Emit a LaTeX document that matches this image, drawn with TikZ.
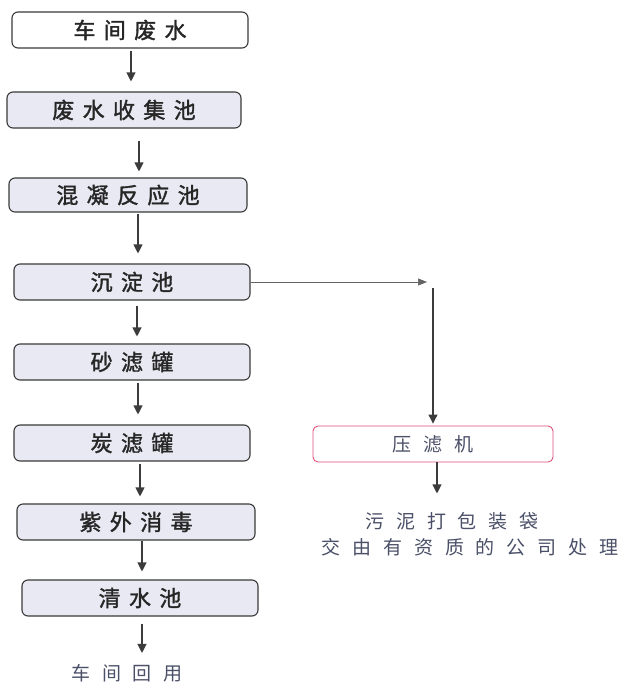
\documentclass[tikz,border=0pt]{standalone}
\usepackage{fontspec}
\usetikzlibrary{arrows.meta}
\newfontfamily\cjkb{Noto Sans CJK SC}[LetterSpace=38,FakeBold=1.5]
\newfontfamily\cjkl{Noto Sans CJK SC}[LetterSpace=62]
\definecolor{boxfill}{HTML}{E9E9F3}
\definecolor{boxdraw}{HTML}{3A3A3A}
\definecolor{pinkdraw}{HTML}{E0507A}
\definecolor{lowtext}{HTML}{4A5068}
\definecolor{arrgray}{HTML}{3C3C3C}
\tikzset{
  stepbox/.style={draw=boxdraw, line width=1.1pt, rounded corners=6pt, fill=boxfill,
    minimum height=36pt, inner sep=0pt, font=\cjkb\fontsize{22}{22}\selectfont, text=black!85},
  pressbox/.style={draw=pinkdraw, line width=0.9pt, rounded corners=5pt, fill=white,
    minimum height=36pt, inner sep=0pt, font=\cjkl\fontsize{19}{19}\selectfont, text=lowtext},
  lowlabel/.style={inner sep=0pt, font=\cjkl\fontsize{19}{19}\selectfont, text=lowtext, align=center},
  arr/.style={draw=arrgray, line width=1.1pt, -{Triangle[length=9pt,width=9pt]}},
  thinarr/.style={draw=arrgray!80, line width=0.6pt, -{Triangle[length=9pt,width=7pt]}}
}
\begin{document}
\begin{tikzpicture}[x=1pt,y=-1pt]
\useasboundingbox (0,0) rectangle (629,686);
\fill[white] (0,0) rectangle (629,686);

\node[stepbox, fill=white, minimum width=236pt] (b1) at (130,30) {车间废水};
\node[stepbox, minimum width=234pt] (b2) at (124,110) {废水收集池};
\node[stepbox, minimum width=238pt, minimum height=34pt] (b3) at (128,195) {混凝反应池};
\node[stepbox, minimum width=236pt] (b4) at (132,282) {沉淀池};
\node[stepbox, minimum width=236pt] (b5) at (132,362) {砂滤罐};
\node[stepbox, minimum width=236pt] (b6) at (132,443) {炭滤罐};
\node[stepbox, minimum width=238pt] (b7) at (136,522) {紫外消毒};
\node[stepbox, minimum width=236pt] (b8) at (140,598) {清水池};
\node[lowlabel] (out) at (127,673) {车间回用};

\node[pressbox, minimum width=240pt] (press) at (433,444) {压滤机};
\node[lowlabel] (sl1) at (452,521) {污泥打包装袋};
\node[lowlabel] (sl2) at (470,547) {交由有资质的公司处理};

% main chain arrows
\draw[arr] ([xshift=1pt,yshift=-2pt]b1.south) -- ([xshift=7pt,yshift=10pt]b2.north);
\draw[arr] ([xshift=15pt,yshift=-12pt]b2.south) -- ([xshift=11pt,yshift=6pt]b3.north);
\draw[arr] ([xshift=10pt,yshift=-1pt]b3.south) -- ([xshift=6pt,yshift=10pt]b4.north);
\draw[arr] ([xshift=5pt,yshift=-5pt]b4.south) -- ([xshift=5pt,yshift=7pt]b5.north);
\draw[arr] ([xshift=6pt,yshift=-2pt]b5.south) -- ([xshift=6pt,yshift=10pt]b6.north);
\draw[arr] ([xshift=8pt,yshift=-2pt]b6.south) -- ([xshift=4pt,yshift=7pt]b7.north);
\draw[arr] ([xshift=6pt,yshift=0pt]b7.south) -- ([xshift=2pt,yshift=8pt]b8.north);
\draw[arr] ([xshift=2pt,yshift=-7pt]b8.south) -- ([xshift=15pt,yshift=11pt]out.north);

% sludge branch
\coordinate (c0) at (427,282);
\coordinate (c1) at (433,288);
\draw[thinarr] (b4.east) -- (c0);
\draw[arr] (c1) -- ([yshift=2pt]press.north);
\draw[arr] ([xshift=4pt]press.south) -- ([xshift=4pt,yshift=-31pt]press.south);
\end{tikzpicture}
\end{document}
